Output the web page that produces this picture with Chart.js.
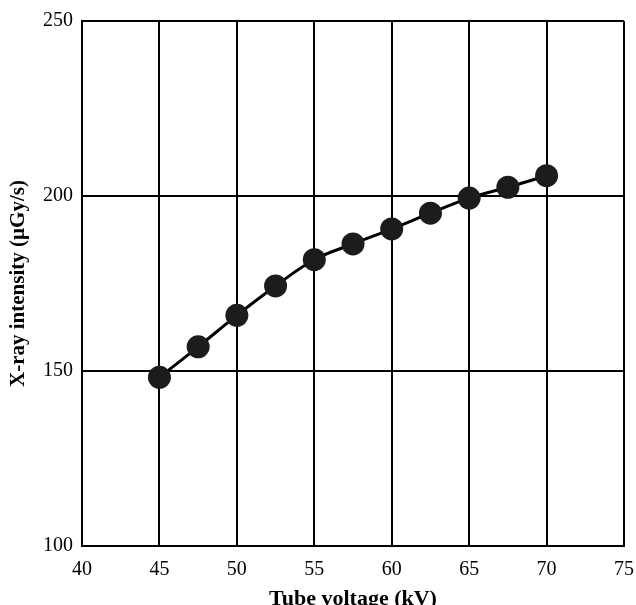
<!DOCTYPE html>
<html>
<head>
<meta charset="utf-8">
<script src="https://cdn.jsdelivr.net/npm/chart.js@4/dist/chart.umd.min.js"></script>
<style>
  html, body { margin: 0; padding: 0; background: #fff; }
  #wrap { width: 636px; height: 605px; }
</style>
</head>
<body>
<div id="wrap"><canvas id="chart" width="636" height="605"></canvas></div>
<script>
// tube voltage (kV) and measured intensity (uGy/s)
const voltages = [45, 47.5, 50, 52.5, 55, 57.5, 60, 62.5, 65, 67.5, 70];
const intensity = [148.2, 156.9, 165.9, 174.3, 181.8, 186.3, 190.6, 195.1, 199.4, 202.5, 205.8];

const xTitle = 'Tube voltage (kV)';
const yTitle = 'X-ray intensity (\u00b5Gy/s)';

const serif = '"Liberation Serif", "DejaVu Serif", serif';

const ctx = document.getElementById('chart').getContext('2d');
new Chart(ctx, {
  type: 'line',
  data: {
    datasets: [{
      data: voltages.map((v, i) => ({ x: v, y: intensity[i] })),
      borderColor: '#000',
      borderWidth: 3,
      tension: 0.4,
      pointRadius: 11.5,
      pointBackgroundColor: '#1c1c1c',
      pointBorderWidth: 0,
      fill: false
    }]
  },
  options: {
    responsive: false,
    animation: false,
    layout: { padding: { top: 21, right: 12, left: 4, bottom: 0 } },
    plugins: { legend: { display: false }, tooltip: { enabled: false } },
    scales: {
      x: {
        type: 'linear',
        min: 40, max: 75,
        ticks: { stepSize: 5, color: '#000', font: { family: serif, size: 20 }, padding: 12 },
        grid: { color: '#000', lineWidth: 2, drawTicks: false },
        border: { color: '#000', width: 2 },
        title: { display: true, text: xTitle, color: '#000', font: { family: serif, size: 22, weight: 'bold' }, padding: { top: 0, bottom: -8 } },
        afterFit: (s) => { s.height = 59; s.paddingRight = 0; s.paddingLeft = 0; }
      },
      y: {
        min: 100, max: 250,
        ticks: { stepSize: 50, color: '#000', font: { family: serif, size: 20 }, padding: 9 },
        grid: { color: '#000', lineWidth: 2, drawTicks: false },
        border: { color: '#000', width: 2 },
        title: { display: true, text: yTitle, color: '#000', font: { family: serif, size: 21, weight: 'bold' }, padding: 2 },
        afterFit: (s) => { s.width = 78; }
      }
    }
  }
});
</script>
</body>
</html>
